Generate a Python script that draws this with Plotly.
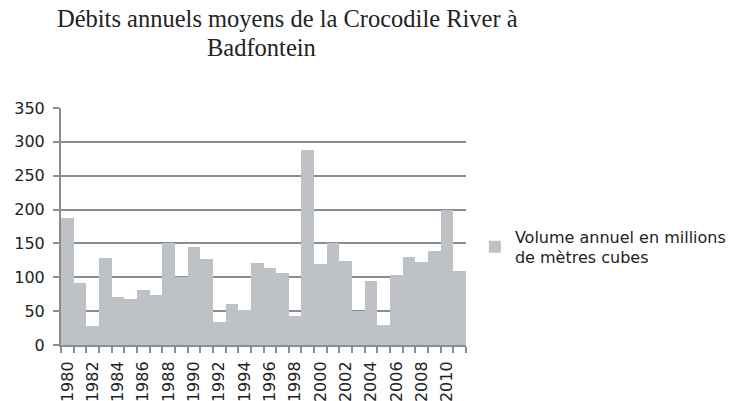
import plotly.graph_objects as go

years = list(range(1980, 2012))
volumes = [187, 92, 28, 128, 71, 68, 81, 74, 151, 100, 145, 127, 34, 61, 52, 121,
           114, 106, 43, 288, 120, 151, 124, 50, 94, 30, 104, 130, 122, 139, 200, 110]
tick_years = list(range(1980, 2012, 2))
series_name = "Volume annuel en millions<br>de mètres cubes"
title_lines = ["Débits annuels moyens de la Crocodile River à", "Badfontein"]

axis_grey = "#8a8e93"
bar_grey = "#bec2c7"
sans = "DejaVu Sans, Open Sans, sans-serif"

fig = go.Figure()
fig.add_trace(go.Bar(x=years, y=volumes, width=1.0, name=series_name,
                     marker=dict(color=bar_grey, line=dict(width=0)),
                     showlegend=True))

fig.update_layout(
    width=732, height=401,
    margin=dict(l=61, r=266, t=108, b=56, autoexpand=False),
    plot_bgcolor="white", paper_bgcolor="white",
    font=dict(family=sans, size=16, color="#222"),
    showlegend=True,
    legend=dict(x=1.022, y=0.53, xanchor="left", yanchor="top",
                font=dict(size=16, family=sans),
                itemwidth=30, tracegroupgap=0, bgcolor="rgba(0,0,0,0)"),
    bargap=0,
)


def px_x(p):
    return (p - 61) / 405


def px_y(p):
    return (345 - p) / 237


for line, cx, cy in zip(title_lines, [287, 261], [18, 48]):
    fig.add_annotation(text=line, xref="paper", yref="paper",
                       x=px_x(cx), y=px_y(cy), xanchor="center", yanchor="middle",
                       showarrow=False,
                       font=dict(family="Liberation Serif, Times New Roman, serif",
                                 size=24.5, color="#222"))

fig.update_yaxes(range=[0, 350], dtick=50, tick0=0, showgrid=True, gridcolor=axis_grey,
                 gridwidth=2, showline=True, linecolor=axis_grey, linewidth=2,
                 ticks="outside", ticklen=6, tickcolor=axis_grey, tickwidth=2,
                 ticklabelstandoff=5, zeroline=False, automargin=False)
fig.update_xaxes(range=[1979.5, 2011.5], tickmode="array", tickvals=tick_years,
                 ticktext=[str(y) for y in tick_years], tickangle=-90,
                 ticks="", showline=True, linecolor=axis_grey, linewidth=2,
                 showgrid=False, zeroline=False, automargin=False, ticklabelstandoff=8,
                 minor=dict(ticks="outside", ticklen=6, tickcolor=axis_grey, tickwidth=2,
                            tick0=1979.5, dtick=1, showgrid=False))

fig.write_html("out.html", config={"displayModeBar": False},
               post_script="document.body.style.margin='0';document.body.style.padding='0';")
